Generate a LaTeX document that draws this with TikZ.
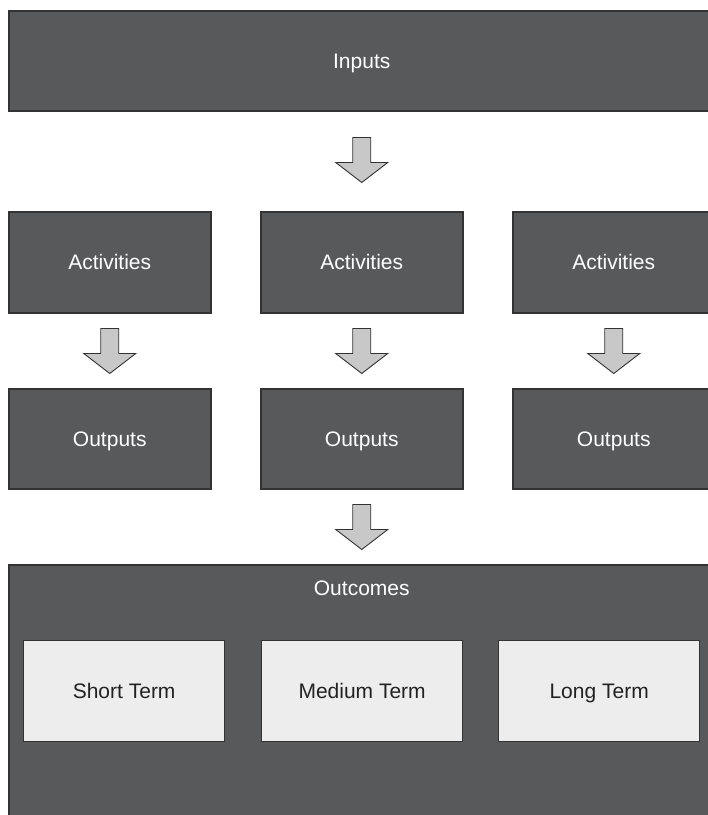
\documentclass[tikz,border=0pt]{standalone}
\usepackage{fontspec}
\setmainfont{Liberation Sans}
\usetikzlibrary{calc}
\definecolor{boxdark}{HTML}{58595B}
\definecolor{boxline}{HTML}{333333}
\definecolor{boxlight}{HTML}{EDEDED}
\definecolor{arrowfill}{HTML}{C8C8C8}
\definecolor{darktext}{HTML}{222222}
\begin{document}
\begin{tikzpicture}[x=1pt,y=1pt,
  darkbox/.style={draw=boxline, line width=1.5pt, fill=boxdark, text=white,
    font=\fontsize{21}{24}\selectfont, inner sep=0pt, anchor=north west,
    text height=16.5pt, text depth=2pt},
  lightbox/.style={draw=boxline, line width=1.3pt, fill=boxlight, text=darktext,
    font=\fontsize{21}{24}\selectfont, inner sep=0pt, anchor=north west,
    text height=16.5pt, text depth=2pt,
    minimum width=201, minimum height=101},
  blockarrow/.pic={\filldraw[fill=arrowfill, draw=boxline, line width=0.9pt, line join=miter]
    (-9,0) -- (9,0) -- (9,-25) -- (26,-25) -- (0,-45) -- (-26,-25) -- (-9,-25) -- cycle;}]
\useasboundingbox (0,0) rectangle (708,-815);
\clip (0,0) rectangle (708,-815);
\fill[white] (0,0) rectangle (708,-815);
% Inputs
\node[darkbox, minimum width=706, minimum height=100] (inputs) at (8,-10) {Inputs};
% Activities
\node[darkbox, minimum width=202, minimum height=101] (act1) at (8,-211) {Activities};
\node[darkbox, minimum width=202, minimum height=101] (act2) at (260,-211) {Activities};
\node[darkbox, minimum width=202, minimum height=101] (act3) at (512,-211) {Activities};
% Outputs
\node[darkbox, minimum width=202, minimum height=100] (out1) at (8,-388) {Outputs};
\node[darkbox, minimum width=202, minimum height=100] (out2) at (260,-388) {Outputs};
\node[darkbox, minimum width=202, minimum height=100] (out3) at (512,-388) {Outputs};
% Outcomes
\node[darkbox, minimum width=706, minimum height=290] (outcomes) at (8,-564) {};
\node[text=white, font=\fontsize{21}{24}\selectfont, inner sep=0pt,
  text height=16.5pt, text depth=2pt] (outtitle)
  at ($(outcomes.north)+(0,-24)$) {Outcomes};
\node[lightbox] (short) at (23,-640) {Short Term};
\node[lightbox] (medium) at (261,-640) {Medium Term};
\node[lightbox] (long) at (498,-640) {Long Term};
% Block arrows
\pic at ($(inputs.south)+(0,-26)$) {blockarrow};
\pic at ($(act1.south)+(0,-15)$) {blockarrow};
\pic at ($(act2.south)+(0,-15)$) {blockarrow};
\pic at ($(act3.south)+(0,-15)$) {blockarrow};
\pic at ($(out2.south)+(0,-15)$) {blockarrow};
\end{tikzpicture}
\end{document}
